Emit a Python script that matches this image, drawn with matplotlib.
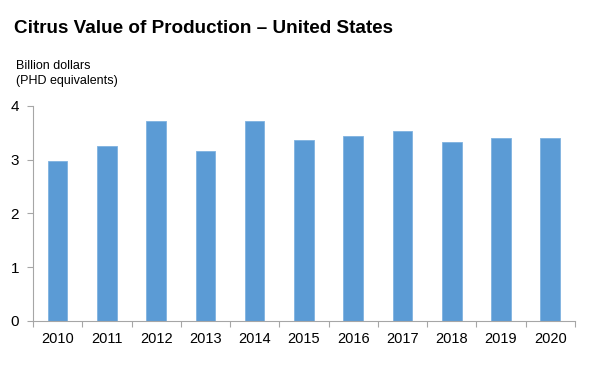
import matplotlib
matplotlib.use("Agg")
import matplotlib.pyplot as plt
import numpy as np

years = ["2010", "2011", "2012", "2013", "2014", "2015", "2016", "2017", "2018", "2019", "2020"]
values = [2.97, 3.25, 3.72, 3.17, 3.72, 3.36, 3.44, 3.54, 3.33, 3.40, 3.40]
yticks = [0, 1, 2, 3, 4]

plt.rcParams['font.family'] = ['Liberation Sans', 'DejaVu Sans']

fig = plt.figure(figsize=(6, 3.78), dpi=100)
ax = fig.add_axes([0.055, 0.1516, 0.903, 0.568])

x = np.arange(len(years))
ax.bar(x, values, width=0.4, color='#5b9bd5', edgecolor='#7fb2e0', linewidth=0.6, zorder=2)
ax.set_xlim(-0.5, len(years) - 0.5)
ax.set_ylim(0, 4)
ax.set_yticks(yticks)
ax.set_yticklabels([str(t) for t in yticks], fontsize=11)
ax.set_xticks(x)
ax.set_xticklabels(years, fontsize=10.5)
ax.set_xticks(np.arange(len(years) + 1) - 0.5, minor=True)
ax.tick_params(axis='x', which='major', length=0, pad=8)
ax.tick_params(axis='x', which='minor', length=4, color='#a6a6a6', width=0.8)
ax.tick_params(axis='y', length=4, color='#a6a6a6', width=0.8, pad=6)
for s in ['top', 'right']:
    ax.spines[s].set_visible(False)
for s in ['left', 'bottom']:
    ax.spines[s].set_color('#a6a6a6')
    ax.spines[s].set_linewidth(0.8)

fig.text(0.023, 0.925, "Citrus Value of Production \u2013 United States", fontsize=13.6, fontweight='bold', va='center', ha='left')
fig.text(0.027, 0.805, "Billion dollars\n(PHD equivalents)", fontsize=9, va='center', ha='left', linespacing=1.35)

fig.savefig("out.png", dpi=100)
